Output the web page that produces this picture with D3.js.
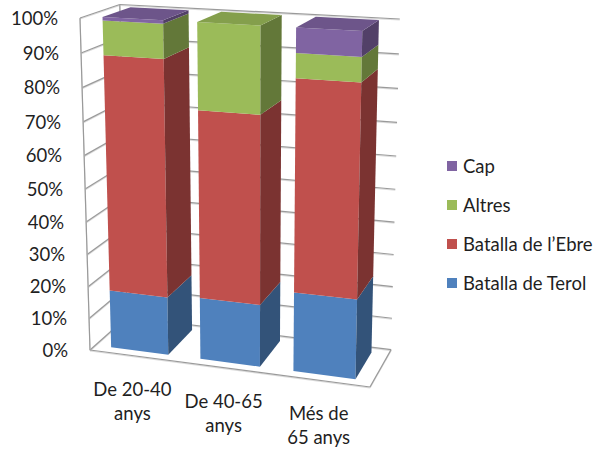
<!DOCTYPE html>
<html>
<head>
<meta charset="utf-8">
<script src="https://cdn.jsdelivr.net/npm/d3@7"></script>
<style>
  body { margin: 0; background: #fff; }
  svg { display: block; font-family: Lato, "Liberation Sans", sans-serif; }
</style>
</head>
<body>
<div id="chart"></div>
<script>
// data (percent of each age group)
const categories = ["De 20-40\nanys", "De 40-65\nanys", "Més de\n65 anys"];
const seriesNames = ["Batalla de Terol", "Batalla de l’Ebre", "Altres", "Cap"];
const terol = [18, 19, 24];
const ebre = [71, 56, 62];
const altres = [10, 25, 7];
const cap = [1, 0, 7];
const yTicks = [0, 10, 20, 30, 40, 50, 60, 70, 80, 90, 100];
const colors = ["#4F81BD", "#C0504D", "#9BBB59", "#8064A2"];

const width = 605;
const height = 452;
const fontSize = 18.5;

// perspective camera: screen spots of the box corners seen from the front-left-bottom
const origin = [90, 350];
const endX = [370, 387];
const endY = [80, 18];
const endZ = [127, 317];
const persp = [0.939, 0.9416, 1.065];

const p0 = [origin[0], origin[1], 1];
const axisVec = (pt, k) => [pt[0] * k - p0[0], pt[1] * k - p0[1], k - 1];
const px = axisVec(endX, persp[0]);
const py = axisVec(endY, persp[1]);
const pz = axisVec(endZ, persp[2]);

function project(x, y, z) {
  const q = [0, 1, 2].map(i => p0[i] + x * px[i] + y * py[i] + z * pz[i]);
  return [q[0] / q[2], q[1] / q[2]];
}

const x = d3.scaleBand().domain(categories).range([0, 1])
  .paddingInner(0.355).paddingOuter(0.18);
const y = d3.scaleLinear().domain([0, 100]).range([0, 1]);
const zFront = 0.14, zBack = 0.86;

const table = categories.map((c, i) => ({
  cat: c,
  [seriesNames[0]]: terol[i],
  [seriesNames[1]]: ebre[i],
  [seriesNames[2]]: altres[i],
  [seriesNames[3]]: cap[i],
}));
const stacked = d3.stack().keys(seriesNames)(table);
const color = d3.scaleOrdinal().domain(seriesNames).range(colors);

const svg = d3.select('#chart').append('svg')
  .attr('width', width)
  .attr('height', height);

const line = d3.line();
const poly = pts => 'M' + pts.map(p => p.join(',')).join('L') + 'Z';

// walls and gridlines, each with a faint shadow under it
const grid = svg.append('g').attr('fill', 'none');
const drawEdge = (a, b) => {
  grid.append('path').attr('d', line([[a[0], a[1] + 1], [b[0], b[1] + 1]]))
    .attr('stroke', '#dcdcdc').attr('stroke-width', 1.2);
  grid.append('path').attr('d', line([a, b]))
    .attr('stroke', '#9a9a9a').attr('stroke-width', 1.2);
};
yTicks.forEach(t => {
  drawEdge(project(0, y(t), 0), project(0, y(t), 1));
  drawEdge(project(0, y(t), 1), project(1, y(t), 1));
});
drawEdge(project(0, 0, 0), project(0, 1, 0));
drawEdge(project(0, 0, 1), project(0, 1, 1));
drawEdge(project(0, 0, 0), project(1, 0, 0));
drawEdge(project(1, 0, 0), project(1, 0, 1));

// tick labels
svg.append('g')
  .selectAll('text')
  .data(yTicks)
  .join('text')
  .attr('x', t => project(0, y(t), 0)[0] - 22)
  .attr('y', t => project(0, y(t), 0)[1])
  .attr('dy', '0.36em')
  .attr('text-anchor', 'end')
  .attr('font-size', fontSize)
  .attr('fill', '#1f1f1f')
  .text(t => t + '%');

// bars: front, right side, and top of the highest piece
const bars = svg.append('g');
categories.forEach((c, i) => {
  const x0 = x(c), x1 = x(c) + x.bandwidth();
  const segs = stacked.map(s => ({ key: s.key, y0: s[i][0], y1: s[i][1] }))
    .filter(s => s.y1 > s.y0);
  segs.forEach((s, j) => {
    const a = y(s.y0), b = y(s.y1);
    const base = d3.color(color(s.key));
    bars.append('path')
      .attr('d', poly([project(x0, a, zFront), project(x1, a, zFront), project(x1, b, zFront), project(x0, b, zFront)]))
      .attr('fill', base.formatHex());
    bars.append('path')
      .attr('d', poly([project(x1, a, zFront), project(x1, a, zBack), project(x1, b, zBack), project(x1, b, zFront)]))
      .attr('fill', base.darker(1.25).formatHex());
    if (j === segs.length - 1) {
      bars.append('path')
        .attr('d', poly([project(x0, b, zFront), project(x1, b, zFront), project(x1, b, zBack), project(x0, b, zBack)]))
        .attr('fill', base.darker(0.45).formatHex());
    }
  });
});

// category labels
svg.append('g')
  .selectAll('text')
  .data(categories)
  .join('text')
  .attr('transform', c => {
    const p = project(x(c) + x.bandwidth() / 2, 0, 0);
    return `translate(${p[0] - 2},${p[1] + 40})`;
  })
  .attr('text-anchor', 'middle')
  .attr('font-size', fontSize)
  .attr('fill', '#1f1f1f')
  .selectAll('tspan')
  .data(c => c.split('\n'))
  .join('tspan')
  .attr('x', 0)
  .attr('dy', (d, k) => k === 0 ? 0 : 24)
  .text(d => d);

// legend, top entry is the last series
const legend = svg.append('g')
  .selectAll('g')
  .data(seriesNames.slice().reverse())
  .join('g')
  .attr('transform', (d, k) => `translate(447,${166 + k * 39})`);
legend.append('rect')
  .attr('x', 0).attr('y', -5)
  .attr('width', 10).attr('height', 10)
  .attr('fill', d => color(d));
legend.append('text')
  .attr('x', 16)
  .attr('dy', '0.36em')
  .attr('font-size', fontSize)
  .attr('fill', '#1f1f1f')
  .text(d => d);
</script>
</body>
</html>
